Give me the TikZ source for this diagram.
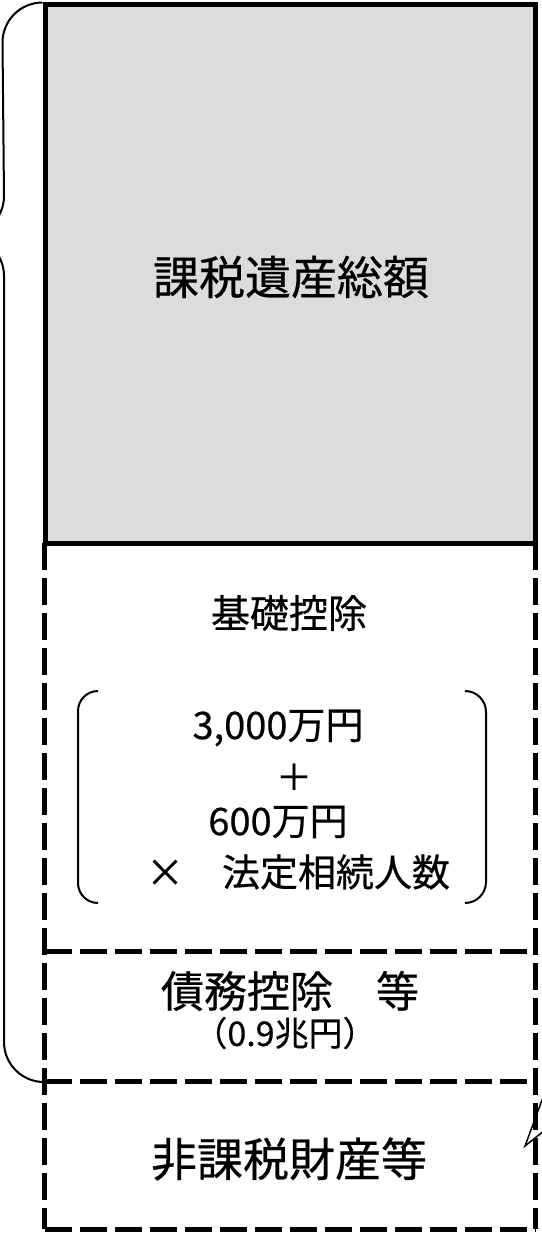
\documentclass[tikz,border=0pt]{standalone}
\usepackage{fontspec}
\setmainfont{Noto Sans CJK JP}[FakeBold=0.5]
\definecolor{boxgray}{RGB}{220,220,220}
\tikzset{
  frameline/.style={line width=5pt, dash pattern=on 27pt off 8pt},
  solidframe/.style={draw, line width=5pt, fill=boxgray, inner sep=0pt},
  area/.style={inner sep=0pt, minimum width=490pt},
  bracketline/.style={line width=2pt},
  txt/.style={inner sep=0pt, text=black, align=center},
}
\newcommand{\fs}[1]{\fontsize{#1}{#1}\selectfont}
\begin{document}
\begin{tikzpicture}[x=1pt,y=1pt]
\useasboundingbox (0,0) rectangle (541,-1233);
% areas
\node[area, minimum height=409pt] (kiso) at (290,-747.5) {};
\node[area, minimum height=130pt] (saimu) at (290,-1017) {};
\node[area, minimum height=147pt] (hika) at (290,-1155.5) {};
% dashed frames
\draw[frameline] (kiso.north west) -- (hika.south west);
\draw[frameline] (kiso.north east) -- (hika.south east);
\draw[frameline] (saimu.north west) -- (saimu.north east);
\draw[frameline] (hika.north west) -- (hika.north east);
\draw[frameline] (hika.south west) -- (hika.south east);
% gray total box
\node[solidframe, minimum width=490pt, minimum height=538pt] (total) at (290,-274) {};
\node[txt] (ttl) at (291,-277) {\fs{46}課税遺産総額};
% basic deduction
\node[txt] (kisot) at (289,-613) {\fs{39}基礎控除};
\node[txt] (f1) at (278,-728) {\fs{38}3,000万円};
\node[txt] (f2) at (294,-777) {\fs{36}＋};
\node[txt] (f3) at (278,-822) {\fs{38}600万円};
\node[txt] (f4) at (298,-872) {\fs{38}×　法定相続人数};
\draw[bracketline] (98,-691) arc[start angle=90, end angle=180, radius=20] -- (78,-883) arc[start angle=180, end angle=270, radius=20];
\draw[bracketline] (465,-691) arc[start angle=90, end angle=0, radius=21] -- (486,-882) arc[start angle=0, end angle=-90, radius=21];
% debt deduction
\node[txt] (saimut) at (290,-991) {\fs{43}債務控除　等};
\node[txt] (saimuv) at (285,-1033) {\fs{34}（0.9兆円）};
% non-taxable
\node[txt] (hikat) at (289,-1159) {\fs{46}非課税財産等};
% brace
\draw[bracketline] (total.north west) arc[start angle=90, end angle=180, radius=40] -- (4,-196)
  arc[start angle=0, end angle=-90, radius=40]
  arc[start angle=90, end angle=0, radius=40] -- (4,-1042)
  arc[start angle=180, end angle=270, radius=40] coordinate (braceend);
% callout tail
\coordinate (tailA) at (545,-1092);
\coordinate (tailtip) at (525,-1146);
\coordinate (tailB) at (545,-1130);
\draw[line width=1.5pt] (tailA) -- (tailtip) -- (tailB);
\end{tikzpicture}
\end{document}
